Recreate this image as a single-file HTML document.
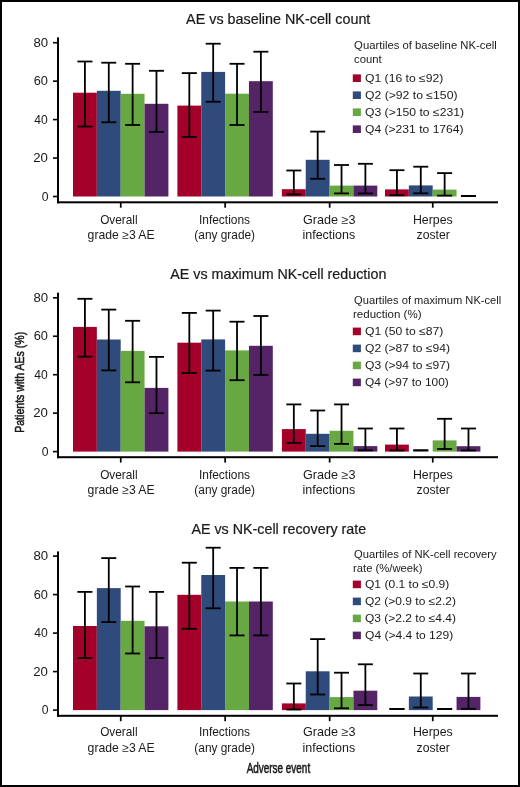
<!DOCTYPE html><html><head><meta charset="utf-8"><style>
html,body{margin:0;padding:0;background:#fff;}
svg{display:block;will-change:transform;}
text{font-family:"Liberation Sans", sans-serif;fill:#1a1a1a;}
</style></head><body>
<svg width="520" height="787" viewBox="0 0 520 787">
<rect x="0" y="0" width="520" height="787" fill="#fff"/>
<rect x="73.00" y="92.70" width="23.85" height="103.80" fill="#A3002A"/>
<rect x="96.85" y="90.80" width="23.85" height="105.70" fill="#2F4B7C"/>
<rect x="120.70" y="93.80" width="23.85" height="102.70" fill="#68A842"/>
<rect x="144.55" y="103.80" width="23.85" height="92.70" fill="#542466"/>
<rect x="177.40" y="105.60" width="23.85" height="90.90" fill="#A3002A"/>
<rect x="201.25" y="71.90" width="23.85" height="124.60" fill="#2F4B7C"/>
<rect x="225.10" y="93.70" width="23.85" height="102.80" fill="#68A842"/>
<rect x="248.95" y="81.20" width="23.85" height="115.30" fill="#542466"/>
<rect x="281.90" y="189.20" width="23.85" height="7.30" fill="#A3002A"/>
<rect x="305.75" y="159.80" width="23.85" height="36.70" fill="#2F4B7C"/>
<rect x="329.60" y="185.60" width="23.85" height="10.90" fill="#68A842"/>
<rect x="353.45" y="185.60" width="23.85" height="10.90" fill="#542466"/>
<rect x="385.00" y="189.40" width="23.85" height="7.10" fill="#A3002A"/>
<rect x="408.85" y="185.40" width="23.85" height="11.10" fill="#2F4B7C"/>
<rect x="432.70" y="189.60" width="23.85" height="6.90" fill="#68A842"/>
<rect x="84.02" y="61.50" width="1.80" height="65.00" fill="#000"/>
<rect x="77.42" y="60.60" width="15.00" height="1.80" fill="#000"/>
<rect x="77.42" y="125.60" width="15.00" height="1.80" fill="#000"/>
<rect x="107.87" y="62.70" width="1.80" height="59.60" fill="#000"/>
<rect x="101.27" y="61.80" width="15.00" height="1.80" fill="#000"/>
<rect x="101.27" y="121.40" width="15.00" height="1.80" fill="#000"/>
<rect x="131.72" y="63.80" width="1.80" height="61.20" fill="#000"/>
<rect x="125.12" y="62.90" width="15.00" height="1.80" fill="#000"/>
<rect x="125.12" y="124.10" width="15.00" height="1.80" fill="#000"/>
<rect x="155.58" y="70.80" width="1.80" height="61.10" fill="#000"/>
<rect x="148.98" y="69.90" width="15.00" height="1.80" fill="#000"/>
<rect x="148.98" y="131.00" width="15.00" height="1.80" fill="#000"/>
<rect x="188.43" y="73.10" width="1.80" height="63.80" fill="#000"/>
<rect x="181.83" y="72.20" width="15.00" height="1.80" fill="#000"/>
<rect x="181.83" y="136.00" width="15.00" height="1.80" fill="#000"/>
<rect x="212.28" y="43.70" width="1.80" height="58.00" fill="#000"/>
<rect x="205.68" y="42.80" width="15.00" height="1.80" fill="#000"/>
<rect x="205.68" y="100.80" width="15.00" height="1.80" fill="#000"/>
<rect x="236.13" y="63.80" width="1.80" height="61.20" fill="#000"/>
<rect x="229.53" y="62.90" width="15.00" height="1.80" fill="#000"/>
<rect x="229.53" y="124.10" width="15.00" height="1.80" fill="#000"/>
<rect x="259.98" y="51.70" width="1.80" height="60.20" fill="#000"/>
<rect x="253.38" y="50.80" width="15.00" height="1.80" fill="#000"/>
<rect x="253.38" y="111.00" width="15.00" height="1.80" fill="#000"/>
<rect x="292.93" y="170.50" width="1.80" height="23.90" fill="#000"/>
<rect x="286.32" y="169.60" width="15.00" height="1.80" fill="#000"/>
<rect x="286.32" y="193.50" width="15.00" height="1.80" fill="#000"/>
<rect x="316.78" y="131.60" width="1.80" height="47.20" fill="#000"/>
<rect x="310.18" y="130.70" width="15.00" height="1.80" fill="#000"/>
<rect x="310.18" y="177.90" width="15.00" height="1.80" fill="#000"/>
<rect x="340.62" y="165.00" width="1.80" height="28.40" fill="#000"/>
<rect x="334.02" y="164.10" width="15.00" height="1.80" fill="#000"/>
<rect x="334.02" y="192.50" width="15.00" height="1.80" fill="#000"/>
<rect x="364.48" y="163.80" width="1.80" height="29.60" fill="#000"/>
<rect x="357.88" y="162.90" width="15.00" height="1.80" fill="#000"/>
<rect x="357.88" y="192.50" width="15.00" height="1.80" fill="#000"/>
<rect x="396.03" y="170.20" width="1.80" height="25.00" fill="#000"/>
<rect x="389.43" y="169.30" width="15.00" height="1.80" fill="#000"/>
<rect x="389.43" y="194.30" width="15.00" height="1.80" fill="#000"/>
<rect x="419.88" y="166.70" width="1.80" height="26.60" fill="#000"/>
<rect x="413.28" y="165.80" width="15.00" height="1.80" fill="#000"/>
<rect x="413.28" y="192.40" width="15.00" height="1.80" fill="#000"/>
<rect x="443.73" y="173.10" width="1.80" height="22.50" fill="#000"/>
<rect x="437.12" y="172.20" width="15.00" height="1.80" fill="#000"/>
<rect x="437.12" y="194.70" width="15.00" height="1.80" fill="#000"/>
<rect x="460.98" y="195.10" width="15.00" height="1.80" fill="#000"/>
<rect x="460.98" y="195.10" width="15.00" height="1.80" fill="#000"/>
<rect x="57" y="37.30" width="2.00" height="166.00" fill="#000"/>
<rect x="57" y="201.30" width="441.00" height="2.00" fill="#000"/>
<rect x="53" y="195.70" width="5" height="1.6" fill="#000"/>
<rect x="53" y="157.25" width="5" height="1.6" fill="#000"/>
<rect x="53" y="118.80" width="5" height="1.6" fill="#000"/>
<rect x="53" y="80.35" width="5" height="1.6" fill="#000"/>
<rect x="53" y="41.90" width="5" height="1.6" fill="#000"/>
<rect x="119.90" y="202.30" width="1.7" height="5.4" fill="#000"/>
<rect x="224.30" y="202.30" width="1.7" height="5.4" fill="#000"/>
<rect x="328.80" y="202.30" width="1.7" height="5.4" fill="#000"/>
<rect x="431.90" y="202.30" width="1.7" height="5.4" fill="#000"/>
<rect x="352.8" y="74.40" width="8.1" height="7.6" fill="#A3002A"/>
<rect x="352.8" y="91.40" width="8.1" height="7.6" fill="#2F4B7C"/>
<rect x="352.8" y="108.40" width="8.1" height="7.6" fill="#68A842"/>
<rect x="352.8" y="125.40" width="8.1" height="7.6" fill="#542466"/>
<rect x="73.00" y="326.90" width="23.85" height="124.70" fill="#A3002A"/>
<rect x="96.85" y="339.50" width="23.85" height="112.10" fill="#2F4B7C"/>
<rect x="120.70" y="350.90" width="23.85" height="100.70" fill="#68A842"/>
<rect x="144.55" y="387.90" width="23.85" height="63.70" fill="#542466"/>
<rect x="177.40" y="342.70" width="23.85" height="108.90" fill="#A3002A"/>
<rect x="201.25" y="339.40" width="23.85" height="112.20" fill="#2F4B7C"/>
<rect x="225.10" y="350.40" width="23.85" height="101.20" fill="#68A842"/>
<rect x="248.95" y="345.80" width="23.85" height="105.80" fill="#542466"/>
<rect x="281.90" y="429.10" width="23.85" height="22.50" fill="#A3002A"/>
<rect x="305.75" y="433.80" width="23.85" height="17.80" fill="#2F4B7C"/>
<rect x="329.60" y="430.80" width="23.85" height="20.80" fill="#68A842"/>
<rect x="353.45" y="446.10" width="23.85" height="5.50" fill="#542466"/>
<rect x="385.00" y="444.60" width="23.85" height="7.00" fill="#A3002A"/>
<rect x="432.70" y="440.40" width="23.85" height="11.20" fill="#68A842"/>
<rect x="456.55" y="446.20" width="23.85" height="5.40" fill="#542466"/>
<rect x="84.02" y="298.80" width="1.80" height="57.90" fill="#000"/>
<rect x="77.42" y="297.90" width="15.00" height="1.80" fill="#000"/>
<rect x="77.42" y="355.80" width="15.00" height="1.80" fill="#000"/>
<rect x="107.87" y="309.60" width="1.80" height="60.80" fill="#000"/>
<rect x="101.27" y="308.70" width="15.00" height="1.80" fill="#000"/>
<rect x="101.27" y="369.50" width="15.00" height="1.80" fill="#000"/>
<rect x="131.72" y="320.80" width="1.80" height="61.50" fill="#000"/>
<rect x="125.12" y="319.90" width="15.00" height="1.80" fill="#000"/>
<rect x="125.12" y="381.40" width="15.00" height="1.80" fill="#000"/>
<rect x="155.58" y="356.90" width="1.80" height="56.30" fill="#000"/>
<rect x="148.98" y="356.00" width="15.00" height="1.80" fill="#000"/>
<rect x="148.98" y="412.30" width="15.00" height="1.80" fill="#000"/>
<rect x="188.43" y="312.90" width="1.80" height="60.20" fill="#000"/>
<rect x="181.83" y="312.00" width="15.00" height="1.80" fill="#000"/>
<rect x="181.83" y="372.20" width="15.00" height="1.80" fill="#000"/>
<rect x="212.28" y="310.60" width="1.80" height="60.00" fill="#000"/>
<rect x="205.68" y="309.70" width="15.00" height="1.80" fill="#000"/>
<rect x="205.68" y="369.70" width="15.00" height="1.80" fill="#000"/>
<rect x="236.13" y="321.70" width="1.80" height="58.50" fill="#000"/>
<rect x="229.53" y="320.80" width="15.00" height="1.80" fill="#000"/>
<rect x="229.53" y="379.30" width="15.00" height="1.80" fill="#000"/>
<rect x="259.98" y="316.00" width="1.80" height="59.00" fill="#000"/>
<rect x="253.38" y="315.10" width="15.00" height="1.80" fill="#000"/>
<rect x="253.38" y="374.10" width="15.00" height="1.80" fill="#000"/>
<rect x="292.93" y="404.40" width="1.80" height="38.50" fill="#000"/>
<rect x="286.32" y="403.50" width="15.00" height="1.80" fill="#000"/>
<rect x="286.32" y="442.00" width="15.00" height="1.80" fill="#000"/>
<rect x="316.78" y="410.50" width="1.80" height="35.60" fill="#000"/>
<rect x="310.18" y="409.60" width="15.00" height="1.80" fill="#000"/>
<rect x="310.18" y="445.20" width="15.00" height="1.80" fill="#000"/>
<rect x="340.62" y="404.40" width="1.80" height="39.50" fill="#000"/>
<rect x="334.02" y="403.50" width="15.00" height="1.80" fill="#000"/>
<rect x="334.02" y="443.00" width="15.00" height="1.80" fill="#000"/>
<rect x="364.48" y="428.50" width="1.80" height="21.80" fill="#000"/>
<rect x="357.88" y="427.60" width="15.00" height="1.80" fill="#000"/>
<rect x="357.88" y="449.40" width="15.00" height="1.80" fill="#000"/>
<rect x="396.03" y="428.50" width="1.80" height="21.90" fill="#000"/>
<rect x="389.43" y="427.60" width="15.00" height="1.80" fill="#000"/>
<rect x="389.43" y="449.50" width="15.00" height="1.80" fill="#000"/>
<rect x="413.28" y="449.50" width="15.00" height="1.80" fill="#000"/>
<rect x="413.28" y="449.50" width="15.00" height="1.80" fill="#000"/>
<rect x="443.73" y="418.80" width="1.80" height="30.20" fill="#000"/>
<rect x="437.12" y="417.90" width="15.00" height="1.80" fill="#000"/>
<rect x="437.12" y="448.10" width="15.00" height="1.80" fill="#000"/>
<rect x="467.58" y="428.50" width="1.80" height="21.90" fill="#000"/>
<rect x="460.98" y="427.60" width="15.00" height="1.80" fill="#000"/>
<rect x="460.98" y="449.50" width="15.00" height="1.80" fill="#000"/>
<rect x="57" y="292.70" width="2.00" height="165.50" fill="#000"/>
<rect x="57" y="456.20" width="441.00" height="2.00" fill="#000"/>
<rect x="53" y="450.80" width="5" height="1.6" fill="#000"/>
<rect x="53" y="412.35" width="5" height="1.6" fill="#000"/>
<rect x="53" y="373.90" width="5" height="1.6" fill="#000"/>
<rect x="53" y="335.45" width="5" height="1.6" fill="#000"/>
<rect x="53" y="297.00" width="5" height="1.6" fill="#000"/>
<rect x="119.90" y="457.20" width="1.7" height="5.4" fill="#000"/>
<rect x="224.30" y="457.20" width="1.7" height="5.4" fill="#000"/>
<rect x="328.80" y="457.20" width="1.7" height="5.4" fill="#000"/>
<rect x="431.90" y="457.20" width="1.7" height="5.4" fill="#000"/>
<rect x="352.8" y="327.60" width="8.1" height="7.6" fill="#A3002A"/>
<rect x="352.8" y="344.60" width="8.1" height="7.6" fill="#2F4B7C"/>
<rect x="352.8" y="361.60" width="8.1" height="7.6" fill="#68A842"/>
<rect x="352.8" y="378.60" width="8.1" height="7.6" fill="#542466"/>
<rect x="73.00" y="626.00" width="23.85" height="84.10" fill="#A3002A"/>
<rect x="96.85" y="588.10" width="23.85" height="122.00" fill="#2F4B7C"/>
<rect x="120.70" y="620.80" width="23.85" height="89.30" fill="#68A842"/>
<rect x="144.55" y="626.30" width="23.85" height="83.80" fill="#542466"/>
<rect x="177.40" y="594.80" width="23.85" height="115.30" fill="#A3002A"/>
<rect x="201.25" y="575.00" width="23.85" height="135.10" fill="#2F4B7C"/>
<rect x="225.10" y="601.50" width="23.85" height="108.60" fill="#68A842"/>
<rect x="248.95" y="601.50" width="23.85" height="108.60" fill="#542466"/>
<rect x="281.90" y="703.40" width="23.85" height="6.70" fill="#A3002A"/>
<rect x="305.75" y="671.30" width="23.85" height="38.80" fill="#2F4B7C"/>
<rect x="329.60" y="697.10" width="23.85" height="13.00" fill="#68A842"/>
<rect x="353.45" y="690.70" width="23.85" height="19.40" fill="#542466"/>
<rect x="408.85" y="696.50" width="23.85" height="13.60" fill="#2F4B7C"/>
<rect x="456.55" y="696.90" width="23.85" height="13.20" fill="#542466"/>
<rect x="84.02" y="591.90" width="1.80" height="66.20" fill="#000"/>
<rect x="77.42" y="591.00" width="15.00" height="1.80" fill="#000"/>
<rect x="77.42" y="657.20" width="15.00" height="1.80" fill="#000"/>
<rect x="107.87" y="558.10" width="1.80" height="64.00" fill="#000"/>
<rect x="101.27" y="557.20" width="15.00" height="1.80" fill="#000"/>
<rect x="101.27" y="621.20" width="15.00" height="1.80" fill="#000"/>
<rect x="131.72" y="586.50" width="1.80" height="67.00" fill="#000"/>
<rect x="125.12" y="585.60" width="15.00" height="1.80" fill="#000"/>
<rect x="125.12" y="652.60" width="15.00" height="1.80" fill="#000"/>
<rect x="155.58" y="591.90" width="1.80" height="66.20" fill="#000"/>
<rect x="148.98" y="591.00" width="15.00" height="1.80" fill="#000"/>
<rect x="148.98" y="657.20" width="15.00" height="1.80" fill="#000"/>
<rect x="188.43" y="562.70" width="1.80" height="66.10" fill="#000"/>
<rect x="181.83" y="561.80" width="15.00" height="1.80" fill="#000"/>
<rect x="181.83" y="627.90" width="15.00" height="1.80" fill="#000"/>
<rect x="212.28" y="547.70" width="1.80" height="60.60" fill="#000"/>
<rect x="205.68" y="546.80" width="15.00" height="1.80" fill="#000"/>
<rect x="205.68" y="607.40" width="15.00" height="1.80" fill="#000"/>
<rect x="236.13" y="567.90" width="1.80" height="67.50" fill="#000"/>
<rect x="229.53" y="567.00" width="15.00" height="1.80" fill="#000"/>
<rect x="229.53" y="634.50" width="15.00" height="1.80" fill="#000"/>
<rect x="259.98" y="567.90" width="1.80" height="67.50" fill="#000"/>
<rect x="253.38" y="567.00" width="15.00" height="1.80" fill="#000"/>
<rect x="253.38" y="634.50" width="15.00" height="1.80" fill="#000"/>
<rect x="292.93" y="683.50" width="1.80" height="26.00" fill="#000"/>
<rect x="286.32" y="682.60" width="15.00" height="1.80" fill="#000"/>
<rect x="286.32" y="708.60" width="15.00" height="1.80" fill="#000"/>
<rect x="316.78" y="639.10" width="1.80" height="55.40" fill="#000"/>
<rect x="310.18" y="638.20" width="15.00" height="1.80" fill="#000"/>
<rect x="310.18" y="693.60" width="15.00" height="1.80" fill="#000"/>
<rect x="340.62" y="672.70" width="1.80" height="35.60" fill="#000"/>
<rect x="334.02" y="671.80" width="15.00" height="1.80" fill="#000"/>
<rect x="334.02" y="707.40" width="15.00" height="1.80" fill="#000"/>
<rect x="364.48" y="664.30" width="1.80" height="40.80" fill="#000"/>
<rect x="357.88" y="663.40" width="15.00" height="1.80" fill="#000"/>
<rect x="357.88" y="704.20" width="15.00" height="1.80" fill="#000"/>
<rect x="389.43" y="708.10" width="15.00" height="1.80" fill="#000"/>
<rect x="389.43" y="708.10" width="15.00" height="1.80" fill="#000"/>
<rect x="419.88" y="673.50" width="1.80" height="34.00" fill="#000"/>
<rect x="413.28" y="672.60" width="15.00" height="1.80" fill="#000"/>
<rect x="413.28" y="706.60" width="15.00" height="1.80" fill="#000"/>
<rect x="437.12" y="708.10" width="15.00" height="1.80" fill="#000"/>
<rect x="437.12" y="708.10" width="15.00" height="1.80" fill="#000"/>
<rect x="467.58" y="673.50" width="1.80" height="35.30" fill="#000"/>
<rect x="460.98" y="672.60" width="15.00" height="1.80" fill="#000"/>
<rect x="460.98" y="707.90" width="15.00" height="1.80" fill="#000"/>
<rect x="57" y="551.40" width="2.00" height="165.40" fill="#000"/>
<rect x="57" y="714.80" width="441.00" height="2.00" fill="#000"/>
<rect x="53" y="709.30" width="5" height="1.6" fill="#000"/>
<rect x="53" y="670.80" width="5" height="1.6" fill="#000"/>
<rect x="53" y="632.30" width="5" height="1.6" fill="#000"/>
<rect x="53" y="593.80" width="5" height="1.6" fill="#000"/>
<rect x="53" y="555.30" width="5" height="1.6" fill="#000"/>
<rect x="119.90" y="715.80" width="1.7" height="5.4" fill="#000"/>
<rect x="224.30" y="715.80" width="1.7" height="5.4" fill="#000"/>
<rect x="328.80" y="715.80" width="1.7" height="5.4" fill="#000"/>
<rect x="431.90" y="715.80" width="1.7" height="5.4" fill="#000"/>
<rect x="352.8" y="580.60" width="8.1" height="7.6" fill="#A3002A"/>
<rect x="352.8" y="597.60" width="8.1" height="7.6" fill="#2F4B7C"/>
<rect x="352.8" y="614.60" width="8.1" height="7.6" fill="#68A842"/>
<rect x="352.8" y="631.60" width="8.1" height="7.6" fill="#542466"/>
<text transform="translate(186.10,24.20) scale(1.0256,1)" font-size="14.0" stroke="#1a1a1a" stroke-width="0.20">AE vs baseline NK-cell count</text>
<text transform="translate(41.80,200.70) scale(1.0167,1)" font-size="12.0">0</text>
<text transform="translate(33.20,162.25) scale(1.1000,1)" font-size="12.0">20</text>
<text transform="translate(34.20,123.80) scale(1.0077,1)" font-size="12.0">40</text>
<text transform="translate(33.63,85.35) scale(1.0667,1)" font-size="12.0">60</text>
<text transform="translate(33.40,46.90) scale(1.1000,1)" font-size="12.0">80</text>
<text transform="translate(100.13,223.60) scale(0.9703,1)" font-size="12.2">Overall</text>
<text transform="translate(87.60,238.70) scale(1.0015,1)" font-size="12.2">grade ≥3 AE</text>
<text transform="translate(198.92,223.60) scale(0.9804,1)" font-size="12.2">Infections</text>
<text transform="translate(194.33,238.70) scale(0.9738,1)" font-size="12.2">(any grade)</text>
<text transform="translate(303.07,223.60) scale(1.0327,1)" font-size="12.2">Grade ≥3</text>
<text transform="translate(302.48,238.70) scale(1.0240,1)" font-size="12.2">infections</text>
<text transform="translate(412.89,223.60) scale(1.0132,1)" font-size="12.2">Herpes</text>
<text transform="translate(416.60,238.70) scale(1.0030,1)" font-size="12.2">zoster</text>
<text transform="translate(354.10,48.60) scale(1.0885,1)" font-size="10.4">Quartiles of baseline NK-cell</text>
<text transform="translate(354.10,63.10) scale(1.0880,1)" font-size="10.4">count</text>
<text transform="translate(364.98,81.50) scale(1.1162,1)" font-size="10.9">Q1 (16 to ≤92)</text>
<text transform="translate(364.98,98.50) scale(1.1210,1)" font-size="10.9">Q2 (&gt;92 to ≤150)</text>
<text transform="translate(364.98,115.50) scale(1.1195,1)" font-size="10.9">Q3 (&gt;150 to ≤231)</text>
<text transform="translate(364.99,132.50) scale(1.1115,1)" font-size="10.9">Q4 (&gt;231 to 1764)</text>
<text transform="translate(170.30,279.20) scale(1.0218,1)" font-size="14.0" stroke="#1a1a1a" stroke-width="0.20">AE vs maximum NK-cell reduction</text>
<text transform="translate(41.80,455.80) scale(1.0167,1)" font-size="12.0">0</text>
<text transform="translate(33.20,417.35) scale(1.1000,1)" font-size="12.0">20</text>
<text transform="translate(34.20,378.90) scale(1.0077,1)" font-size="12.0">40</text>
<text transform="translate(33.63,340.45) scale(1.0667,1)" font-size="12.0">60</text>
<text transform="translate(33.40,302.00) scale(1.1000,1)" font-size="12.0">80</text>
<text transform="translate(100.13,478.60) scale(0.9703,1)" font-size="12.2">Overall</text>
<text transform="translate(87.60,493.70) scale(1.0015,1)" font-size="12.2">grade ≥3 AE</text>
<text transform="translate(198.92,478.60) scale(0.9804,1)" font-size="12.2">Infections</text>
<text transform="translate(194.33,493.70) scale(0.9738,1)" font-size="12.2">(any grade)</text>
<text transform="translate(303.07,478.60) scale(1.0327,1)" font-size="12.2">Grade ≥3</text>
<text transform="translate(302.48,493.70) scale(1.0240,1)" font-size="12.2">infections</text>
<text transform="translate(412.89,478.60) scale(1.0132,1)" font-size="12.2">Herpes</text>
<text transform="translate(416.60,493.70) scale(1.0030,1)" font-size="12.2">zoster</text>
<text transform="translate(354.10,303.50) scale(1.0701,1)" font-size="10.4">Quartiles of maximum NK-cell</text>
<text transform="translate(352.99,318.00) scale(1.1100,1)" font-size="10.4">reduction (%)</text>
<text transform="translate(364.98,334.70) scale(1.1191,1)" font-size="10.9">Q1 (50 to ≤87)</text>
<text transform="translate(364.99,351.70) scale(1.1120,1)" font-size="10.9">Q2 (&gt;87 to ≤94)</text>
<text transform="translate(364.99,368.70) scale(1.1120,1)" font-size="10.9">Q3 (&gt;94 to ≤97)</text>
<text transform="translate(365.01,385.70) scale(1.0947,1)" font-size="10.9">Q4 (&gt;97 to 100)</text>
<text transform="translate(191.40,534.20) scale(1.0218,1)" font-size="14.0" stroke="#1a1a1a" stroke-width="0.20">AE vs NK-cell recovery rate</text>
<text transform="translate(41.80,714.30) scale(1.0167,1)" font-size="12.0">0</text>
<text transform="translate(33.20,675.80) scale(1.1000,1)" font-size="12.0">20</text>
<text transform="translate(34.20,637.30) scale(1.0077,1)" font-size="12.0">40</text>
<text transform="translate(33.63,598.80) scale(1.0667,1)" font-size="12.0">60</text>
<text transform="translate(33.40,560.30) scale(1.1000,1)" font-size="12.0">80</text>
<text transform="translate(100.13,736.40) scale(0.9703,1)" font-size="12.2">Overall</text>
<text transform="translate(87.60,751.50) scale(1.0015,1)" font-size="12.2">grade ≥3 AE</text>
<text transform="translate(198.92,736.40) scale(0.9804,1)" font-size="12.2">Infections</text>
<text transform="translate(194.33,751.50) scale(0.9738,1)" font-size="12.2">(any grade)</text>
<text transform="translate(303.07,736.40) scale(1.0327,1)" font-size="12.2">Grade ≥3</text>
<text transform="translate(302.48,751.50) scale(1.0240,1)" font-size="12.2">infections</text>
<text transform="translate(412.89,736.40) scale(1.0132,1)" font-size="12.2">Herpes</text>
<text transform="translate(416.60,751.50) scale(1.0030,1)" font-size="12.2">zoster</text>
<text transform="translate(354.10,557.60) scale(1.0780,1)" font-size="10.4">Quartiles of NK-cell recovery</text>
<text transform="translate(353.02,572.10) scale(1.0841,1)" font-size="10.4">rate (%/week)</text>
<text transform="translate(364.99,587.70) scale(1.1068,1)" font-size="10.9">Q1 (0.1 to ≤0.9)</text>
<text transform="translate(365.00,604.70) scale(1.1012,1)" font-size="10.9">Q2 (&gt;0.9 to ≤2.2)</text>
<text transform="translate(365.00,621.70) scale(1.1012,1)" font-size="10.9">Q3 (&gt;2.2 to ≤4.4)</text>
<text transform="translate(364.99,638.70) scale(1.1090,1)" font-size="10.9">Q4 (&gt;4.4 to 129)</text>
<text transform="translate(23.8,382.3) rotate(-90)" font-size="13.2" stroke="#1a1a1a" stroke-width="0.55" text-anchor="middle" textLength="101" lengthAdjust="spacingAndGlyphs">Patients with AEs (%)</text>
<text x="278.4" y="772.7" font-size="14.0" stroke="#1a1a1a" stroke-width="0.55" text-anchor="middle" textLength="63.5" lengthAdjust="spacingAndGlyphs">Adverse event</text>
<rect x="1" y="1" width="518" height="785" fill="none" stroke="#000" stroke-width="2"/>
</svg></body></html>
